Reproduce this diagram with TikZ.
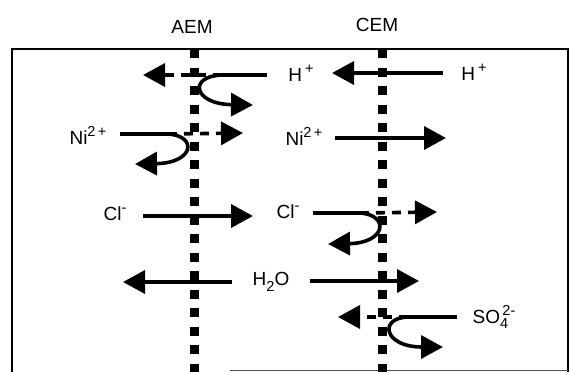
\documentclass[tikz,border=0pt]{standalone}
\usepackage{fontspec}
\setmainfont{Liberation Sans}
\usetikzlibrary{arrows.meta}
\newcommand\supx[1]{\raisebox{0.42em}{\fontsize{14.5}{14.5}\selectfont #1}}
\newcommand\subx[1]{\raisebox{-0.28em}{\fontsize{14.5}{14.5}\selectfont #1}}
\begin{document}
\begin{tikzpicture}[x=1pt,y=-1pt,
  lbl/.style={font=\fontsize{19}{21}\selectfont, inner sep=0pt},
  flow/.style={line width=3.6pt, -{Triangle[length=22pt,width=23pt]}},
  plain/.style={line width=3.6pt},
  dflow/.style={line width=3.6pt, dash pattern=on 9pt off 7pt, -{Triangle[length=22pt,width=23pt]}},
  membrane/.style={line width=9pt, dash pattern=on 9pt off 9.5pt},
  frame/.style={line width=2.5pt}]
\useasboundingbox (0,0) rectangle (571,372);
% frame
\coordinate (fbl) at (12,372);
\coordinate (ftl) at (12,49);
\coordinate (ftr) at (568,49);
\coordinate (fbr) at (568,372);
\coordinate (bstart) at (230,370);
\coordinate (bend) at (568,370);
\draw[frame] (fbl) -- (ftl) -- (ftr) -- (fbr);
\draw[line width=1pt, black!70] (bstart) -- (bend);
% membranes
\coordinate (aemtop) at (194,49);
\coordinate (aembot) at (194,372);
\coordinate (cemtop) at (382,49);
\coordinate (cembot) at (382,372);
\draw[membrane] (aemtop) -- (aembot);
\draw[membrane] (cemtop) -- (cembot);
\node[lbl] (aem) at (192,27) {AEM};
\node[lbl] (cem) at (377,25) {CEM};
% row 1
\node[lbl] (h1) at (301,73) {H\,\supx{+}};
\node[lbl] (h2) at (474,72) {H\,\supx{+}};
\coordinate (r1s) at (267,75);
\coordinate (r1c) at (222,75);
\coordinate (r1e) at (253,105);
\coordinate (r1d) at (143,75);
\draw[plain] (r1s) -- (r1c);
\draw[flow] (r1c) .. controls (188,76) and (193,104) .. (r1e);
\draw[dflow] (r1c) -- (r1d);
\coordinate (r1cs) at (443,73);
\coordinate (r1ce) at (332,73);
\draw[flow] (r1cs) -- (r1ce);
% row 2
\node[lbl] (ni1) at (88,135) {Ni\supx{2\,+}};
\node[lbl] (ni2) at (304,136) {Ni\supx{2\,+}};
\coordinate (r2s) at (120,134);
\coordinate (r2c) at (168,134);
\coordinate (r2e) at (135,164);
\coordinate (r2d) at (243,133);
\draw[plain] (r2s) -- (r2c);
\draw[flow] (r2c) .. controls (198,136) and (194,163) .. (r2e);
\draw[dflow] (r2c) -- (r2d);
\coordinate (r2cs) at (335,138);
\coordinate (r2ce) at (446,138);
\draw[flow] (r2cs) -- (r2ce);
% row 3
\node[lbl] (cl1) at (115,214) {Cl\supx{-}};
\node[lbl] (cl2) at (288,212) {Cl\supx{-}};
\coordinate (r3s) at (143,216);
\coordinate (r3e) at (253,216);
\draw[flow] (r3s) -- (r3e);
\coordinate (r3cs) at (313,213);
\coordinate (r3cc) at (360,213);
\coordinate (r3ce) at (328,244);
\coordinate (r3cd) at (437,212);
\draw[plain] (r3cs) -- (r3cc);
\draw[flow] (r3cc) .. controls (390,215) and (386,243) .. (r3ce);
\draw[dflow] (r3cc) -- (r3cd);
% row 4
\node[lbl] (h2o) at (271,282) {H\subx{2}O};
\coordinate (r4s) at (232,282);
\coordinate (r4e) at (123,282);
\draw[flow] (r4s) -- (r4e);
\coordinate (r4cs) at (310,281);
\coordinate (r4ce) at (419,281);
\draw[flow] (r4cs) -- (r4ce);
% row 5
\node[lbl] (so4) at (494,317) {SO\rlap{\subx{4}}\supx{\,2-}};
\coordinate (r5s) at (457,317);
\coordinate (r5c) at (408,317);
\coordinate (r5e) at (443,347);
\coordinate (r5d) at (338,317);
\draw[plain] (r5s) -- (r5c);
\draw[flow] (r5c) .. controls (378,318) and (384,347) .. (r5e);
\draw[dflow] (r5c) -- (r5d);
\end{tikzpicture}
\end{document}
